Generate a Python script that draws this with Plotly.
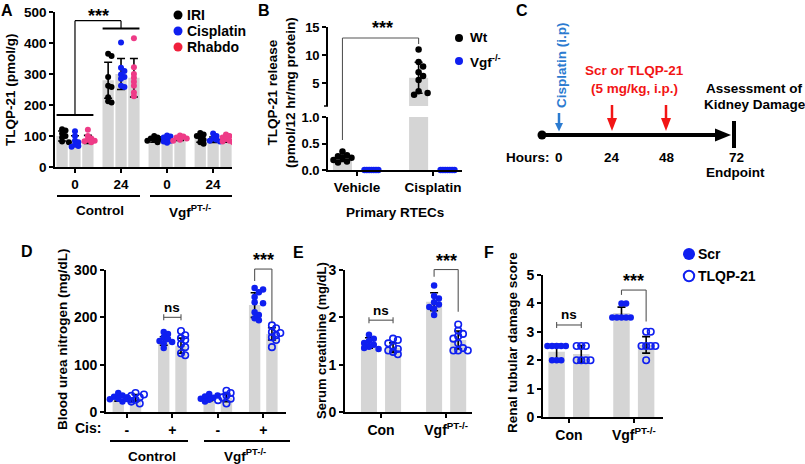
import plotly.graph_objects as go

W, H = 805, 464
FONT = "Liberation Sans"
BLUE = "#0f1ff0"
PINK = "#ee3b87"
RED_LEGEND = "#f0203c"
GRAY = "#d5d5d5"
C_BLUE = "#2b7bd0"
C_RED = "#f21515"
BRACKET = "#555555"

# ================= DATA =================
# Panel A : TLQP-21 (pmol/g)
A_tick_labels = ["0", "24", "0", "24"]
A_group_names = ["Control", "Vgf<sup>PT-/-</sup>"]
A_series_names = ["IRI", "Cisplatin", "Rhabdo"]
A_IRI_mean = [100, 280, 88, 92]
A_IRI_sd = [16, 58, 8, 12]
A_IRI_points = [[122, 118, 108, 100, 95, 82, 80],
                [365, 358, 290, 262, 258, 225, 212, 208],
                [100, 95, 92, 90, 88, 85, 80],
                [110, 105, 100, 95, 88, 80, 75]]
A_Cis_mean = [84, 300, 90, 88]
A_Cis_sd = [17, 50, 9, 9]
A_Cis_points = [[115, 100, 85, 80, 72, 68, 65],
                [402, 320, 310, 298, 290, 285, 262, 258],
                [102, 98, 95, 90, 85, 82, 78],
                [108, 100, 92, 88, 85, 82]]
A_Rha_mean = [89, 288, 93, 89]
A_Rha_sd = [13, 62, 7, 9]
A_Rha_points = [[120, 100, 92, 88, 85, 83, 80],
                [415, 322, 300, 288, 275, 262, 240, 228],
                [102, 98, 95, 92, 88, 85],
                [105, 100, 95, 90, 85, 82, 80]]

# Panel B : TLQP-21 release
B_tick_labels = ["Vehicle", "Cisplatin"]
B_series_names = ["Wt", "Vgf<sup>-/-</sup>"]
B_Wt_mean = [0.22, 6.0]
B_Wt_sd = [0.06, 2.75]
B_Wt_points = [[0.35, 0.28, 0.26, 0.23, 0.21, 0.19, 0.16, 0.14],
               [11.0, 8.8, 8.0, 7.0, 6.3, 5.6, 3.6, 3.3, 3.0]]
B_Vgf_points = [[0, 0, 0, 0, 0, 0, 0],
                [0, 0, 0, 0, 0, 0, 0]]

# Panel D : Blood urea nitrogen
D_tick_labels = ["-", "+", "-", "+"]
D_group_names = ["Control", "Vgf<sup>PT-/-</sup>"]
D_Scr_mean = [28, 150, 29, 226]
D_Scr_sd = [5, 9, 5, 26]
D_Scr_points = [[40, 35, 32, 30, 28, 27, 25, 22],
                [169, 165, 158, 154, 150, 148, 145, 135],
                [38, 35, 33, 30, 28, 26, 22],
                [262, 259, 253, 243, 232, 230, 211, 205, 198, 194]]
D_TLQP_mean = [30, 140, 30, 165]
D_TLQP_sd = [7, 16, 8, 13]
D_TLQP_points = [[40, 37, 34, 31, 29, 26, 22, 18],
                 [171, 162, 156, 152, 143, 137, 124, 120],
                 [45, 40, 35, 31, 28, 25, 18],
                 [183, 177, 169, 167, 162, 158, 152, 137]]

# Panel E : Serum creatinine
E_tick_labels = ["Con", "Vgf<sup>PT-/-</sup>"]
E_Scr_mean = [1.46, 2.33]
E_Scr_sd = [0.11, 0.19]
E_Scr_points = [[1.63, 1.55, 1.5, 1.46, 1.42, 1.38, 1.35, 1.33],
                [2.67, 2.45, 2.4, 2.32, 2.27, 2.22, 2.18, 2.05]]
E_TLQP_mean = [1.36, 1.52]
E_TLQP_sd = [0.1, 0.19]
E_TLQP_points = [[1.55, 1.52, 1.45, 1.38, 1.33, 1.3, 1.27, 1.22],
                 [1.85, 1.72, 1.65, 1.6, 1.55, 1.45, 1.35, 1.3, 1.3, 1.3]]

# Panel F : Renal tubular damage score
F_tick_labels = ["Con", "Vgf<sup>PT-/-</sup>"]
F_series_names = ["Scr", "TLQP-21"]
F_Scr_mean = [2.3, 3.66]
F_Scr_sd = [0.26, 0.21]
F_Scr_points = [[2.5, 2.5, 2.5, 2.5, 2.5, 2, 2, 2],
                [4, 4, 3.5, 3.5, 3.5, 3.5, 3.5]]
F_TLQP_mean = [2.22, 2.54]
F_TLQP_sd = [0.3, 0.29]
F_TLQP_points = [[2.5, 2.5, 2.5, 2, 2, 2, 2],
                 [3, 3, 2.5, 2.5, 2.5, 2.5, 2]]

# Panel C timeline labels
C_hour_labels = ["0", "24", "48", "72"]

# ================= LAYOUT HELPERS =================
PANELS = {
    "A":  dict(n="",  x0=55,  x1=232, xr=[-0.434, 3.41], y0=12,  y1=167, yr=[0, 500]),
    "Bl": dict(n="2", x0=328, x1=462, xr=[-0.38, 1.38],  y0=117, y1=170, yr=[0, 1.0]),
    "Bu": dict(n="3", x0=328, x1=462, xr=[-0.38, 1.38],  y0=27,  y1=106, yr=[1, 15]),
    "D":  dict(n="4", x0=106, x1=286, xr=[-0.46, 3.5],   y0=270, y1=412, yr=[0, 300]),
    "E":  dict(n="5", x0=345, x1=472, xr=[-0.553, 1.397], y0=270, y1=412, yr=[0, 3]),
    "F":  dict(n="6", x0=543, x1=663, xr=[-0.4, 1.45],   y0=275, y1=417, yr=[0, 5]),
}


def xppu(p):
    P = PANELS[p]
    return (P["x1"] - P["x0"]) / (P["xr"][1] - P["xr"][0])


def yppu(p):
    P = PANELS[p]
    return (P["y1"] - P["y0"]) / (P["yr"][1] - P["yr"][0])


def X(p, v):
    P = PANELS[p]
    return P["x0"] + (v - P["xr"][0]) * xppu(p)


def Y(p, v):
    P = PANELS[p]
    return P["y1"] - (v - P["yr"][0]) * yppu(p)


def swarm(vals, ppu, d, step):
    placed, out = [], []
    for v in vals:
        y = v * ppu
        k = 0
        while True:
            c = 0.0 if k == 0 else ((k + 1) // 2) * step * (1 if k % 2 else -1)
            if all((c - a) ** 2 + (y - b) ** 2 >= d * d * 0.999 for a, b in placed):
                break
            k += 1
        placed.append((c, y))
        out.append(c)
    return out


fig = go.Figure()
layout = dict(template="none", width=W, height=H,
              margin=dict(l=0, r=0, t=0, b=0, pad=0, autoexpand=False),
              paper_bgcolor="white", plot_bgcolor="rgba(0,0,0,0)",
              showlegend=False, barmode="overlay",
              font=dict(family=FONT, color="black", weight="bold"))
annotations, shapes = [], []


def add_series(p, means, sds, points, off, bw, mk, d=5.5, step=None,
               keep=None, err_groups=None, bars=True, clip=True):
    P = PANELS[p]
    xa, ya = "x" + P["n"], "y" + P["n"]
    n = len(points)
    xs = [g + off for g in range(n)]
    if bars:
        fig.add_trace(go.Bar(x=xs, y=means, width=bw, xaxis=xa, yaxis=ya,
                             marker=dict(color=GRAY, line=dict(width=0)),
                             hoverinfo="skip"))
    if sds is not None:
        idx = list(range(n)) if err_groups is None else err_groups
        fig.add_trace(go.Scatter(
            x=[xs[i] for i in idx], y=[means[i] for i in idx], mode="markers",
            marker=dict(size=1, color="rgba(0,0,0,0)"), xaxis=xa, yaxis=ya,
            error_y=dict(type="data", array=[sds[i] for i in idx], color="black",
                         thickness=1.6, width=4), hoverinfo="skip"))
    px_x, px_y = [], []
    for g, vals in enumerate(points):
        offs = swarm(vals, yppu(p), d, step or d)
        for v, o in zip(vals, offs):
            if keep is None or keep(v):
                px_x.append(g + off + o / xppu(p))
                px_y.append(v)
    fig.add_trace(go.Scatter(x=px_x, y=px_y, mode="markers", marker=mk,
                             xaxis=xa, yaxis=ya, cliponaxis=clip, hoverinfo="skip"))


def axes(p, xtv, xtt, ytv, ytt, xsize=13.5, ysize=13.5, xvisible=True):
    P = PANELS[p]
    n = P["n"]
    common = dict(showgrid=False, zeroline=False, showline=True, linecolor="black",
                  linewidth=1.6, ticks="outside", ticklen=4, tickwidth=1.5,
                  tickcolor="black", fixedrange=True, automargin=False)
    layout["xaxis" + n] = dict(domain=[P["x0"] / W, P["x1"] / W], range=P["xr"],
                               anchor="y" + n, tickvals=xtv, ticktext=xtt,
                               tickfont=dict(family=FONT, size=xsize, color="black", weight="bold"),
                               visible=xvisible, **common)
    layout["yaxis" + n] = dict(domain=[1 - P["y1"] / H, 1 - P["y0"] / H], range=P["yr"],
                               anchor="x" + n, tickvals=ytv, ticktext=ytt,
                               tickfont=dict(family=FONT, size=ysize, color="black", weight="bold"),
                               **common)


def T(text, x, y, size=13.5, color="black", xanchor="center", angle=0):
    annotations.append(dict(text=text, x=x / W, y=1 - y / H, xref="paper", yref="paper",
                            showarrow=False, xanchor=xanchor, yanchor="middle",
                            textangle=angle, borderpad=0,
                            font=dict(family=FONT, size=size, color=color, weight="bold")))


def L(x0, y0, x1, y1, color="black", w=1.5):
    shapes.append(dict(type="line", xref="paper", yref="paper", x0=x0 / W, y0=1 - y0 / H,
                       x1=x1 / W, y1=1 - y1 / H, line=dict(color=color, width=w)))


def poly(pts, color):
    path = "M " + " L ".join(f"{x / W},{1 - y / H}" for x, y in pts) + " Z"
    shapes.append(dict(type="path", xref="paper", yref="paper", path=path,
                       fillcolor=color, line=dict(width=0)))


def circ(cx, cy, r, fill, line_color, lw):
    shapes.append(dict(type="circle", xref="paper", yref="paper",
                       x0=(cx - r) / W, x1=(cx + r) / W, y0=1 - (cy + r) / H, y1=1 - (cy - r) / H,
                       fillcolor=fill, line=dict(color=line_color, width=lw)))


# ================= PANEL A =================
A_off, A_bw = 0.28, 0.245
for means, sds, pts, col, off in [
        (A_IRI_mean, A_IRI_sd, A_IRI_points, "black", -A_off),
        (A_Cis_mean, A_Cis_sd, A_Cis_points, BLUE, 0.0),
        (A_Rha_mean, A_Rha_sd, A_Rha_points, PINK, A_off)]:
    add_series("A", means, sds, pts, off, A_bw, dict(size=6, color=col), d=3.6, step=3.4)
axes("A", [0, 1, 2, 3], A_tick_labels, [0, 100, 200, 300, 400, 500],
     ["0", "100", "200", "300", "400", "500"])
T("TLQP-21 (pmol/g)", 10, 90, angle=-90)
L(57, 196, 140, 196, w=2)
L(150, 196, 232, 196, w=2)
T(A_group_names[0], 100, 211)
T(A_group_names[1], 190, 211)
# significance
L(X("A", -0.4), Y("A", 168), X("A", 0.4), Y("A", 168), w=2)
L(X("A", 0.6), Y("A", 447), X("A", 1.4), Y("A", 447), w=2)
L(X("A", 0), Y("A", 168), X("A", 0), Y("A", 472), w=1.2)
L(X("A", 0), Y("A", 472), X("A", 1), Y("A", 472), w=1.2)
L(X("A", 1), Y("A", 472), X("A", 1), Y("A", 447), w=1.2)
T("***", 98, 16, size=18)
# legend
for i, (nm, col) in enumerate(zip(A_series_names, ["black", BLUE, RED_LEGEND])):
    circ(178, 15 + 16 * i, 4.5, col, col, 0)
    T(nm, 186, 15 + 16 * i, size=14, xanchor="left")

# ================= PANEL B =================
B_off, B_bw = 0.19, 0.25
for p, keep, errg in [("Bl", lambda v: v <= 1.0, [0]), ("Bu", lambda v: v > 1.0, [1])]:
    add_series(p, B_Wt_mean, B_Wt_sd, B_Wt_points, -B_off, B_bw,
               dict(size=6.5, color="black"), d=5.0, step=4.5, keep=keep, err_groups=errg,
               clip=(p == "Bu"))
add_series("Bl", None, None, B_Vgf_points, B_off, B_bw, dict(size=6.5, color=BLUE),
           d=2.3, step=2.3, bars=False, clip=False)
axes("Bl", [0, 1], B_tick_labels, [0, 0.5, 1.0], ["0.0", "0.5", "1.0"], ysize=13)
axes("Bu", [0, 1], B_tick_labels, [5, 10, 15], ["5", "10", "15"], ysize=13,
     xvisible=False)
L(PANELS["Bu"]["x0"] - 4, Y("Bu", 1), PANELS["Bu"]["x0"], Y("Bu", 1), w=1.5)
T("TLQP-21 release<br>(pmol/12 hr/mg protein)", 281, 93, angle=-90)
T("Primary RTECs", 395, 212)
L(X("Bl", -B_off), 140, X("Bl", -B_off), 38, BRACKET, 1.1)
L(X("Bl", -B_off), 38, X("Bl", 1 - B_off), 38, BRACKET, 1.1)
L(X("Bl", 1 - B_off), 38, X("Bl", 1 - B_off), 44, BRACKET, 1.1)
T("***", 382, 28, size=18)
circ(459, 38, 4, "black", "black", 0)
T(B_series_names[0], 469, 38, xanchor="left")
circ(459, 61, 4, BLUE, BLUE, 0)
T(B_series_names[1], 469, 61, xanchor="left")

# ================= PANEL C =================
circ(542, 135, 4.5, "black", "black", 0)
L(542, 135, 718, 135, w=4)
poly([(715, 128.5), (731, 135), (715, 141.5)], "black")
L(734, 121, 734, 148, w=4)
L(559, 113, 559, 124, C_BLUE, 2.5)
poly([(555, 123), (563, 123), (559, 131.5)], C_BLUE)
for xa in [612, 666]:
    L(xa, 105, xa, 119, C_RED, 2.5)
    poly([(xa - 5, 118), (xa + 5, 118), (xa, 131)], C_RED)
T("Hours:", 551, 157, xanchor="right")
for lab, xa in zip(C_hour_labels, [559, 612, 667, 736]):
    T(lab, xa, 157)
T("Endpoint", 735, 173)
T("Assessment of", 754, 88)
T("Kidney Damage", 755, 104)
T("Scr or TLQP-21", 634, 71, color=C_RED)
T("(5 mg/kg, i.p.)", 634, 88, color=C_RED)
T("Cisplatin (i.p)", 561, 65, color=C_BLUE, angle=-90)

# ================= PANEL D =================
D_off, D_bw = 0.19, 0.25
FILLED = dict(size=6.5, color=BLUE)
OPEN = dict(size=6.5, symbol="circle-open", color=BLUE, line=dict(width=1.6))
add_series("D", D_Scr_mean, D_Scr_sd, D_Scr_points, -D_off, D_bw, FILLED, d=4.6, step=4.2)
add_series("D", D_TLQP_mean, D_TLQP_sd, D_TLQP_points, D_off, D_bw, OPEN, d=4.6, step=4.2)
axes("D", [0, 1, 2, 3], D_tick_labels, [0, 100, 200, 300], ["0", "100", "200", "300"],
     xsize=14, ysize=14)
T("Blood urea nitrogen (mg/dL)", 62, 339, angle=-90)
T("Cis:", 102, 428, size=14, xanchor="right")
L(110, 441, 188, 441, w=2)
L(204, 441, 290, 441, w=2)
T(D_group_names[0], 152, 456)
T(D_group_names[1], 245, 455)
# ns
for xa in [X("D", 1 - D_off), X("D", 1 + D_off)]:
    L(xa, Y("D", 200) - 3, xa, Y("D", 200) + 3, BRACKET, 1.1)
L(X("D", 1 - D_off), Y("D", 200), X("D", 1 + D_off), Y("D", 200), BRACKET, 1.1)
T("ns", X("D", 1), Y("D", 200) - 10)
# ***
L(X("D", 3 - D_off), Y("D", 277), X("D", 3 - D_off), Y("D", 302), BRACKET, 1.1)
L(X("D", 3 - D_off), Y("D", 302), X("D", 3 + D_off), Y("D", 302), BRACKET, 1.1)
L(X("D", 3 + D_off), Y("D", 302), X("D", 3 + D_off), Y("D", 190), BRACKET, 1.1)
T("***", X("D", 3), Y("D", 302) - 9, size=18)

# ================= PANEL E =================
E_off, E_bw = 0.185, 0.246
add_series("E", E_Scr_mean, E_Scr_sd, E_Scr_points, -E_off, E_bw, FILLED, d=4.8)
add_series("E", E_TLQP_mean, E_TLQP_sd, E_TLQP_points, E_off, E_bw, OPEN, d=4.8)
axes("E", [0, 1], E_tick_labels, [0, 1, 2, 3], ["0", "1", "2", "3"], xsize=14, ysize=14)
T("Serum creatinine (mg/dL)", 321, 341, size=13, angle=-90)
for xa in [X("E", -E_off), X("E", E_off)]:
    L(xa, Y("E", 1.94) - 3, xa, Y("E", 1.94) + 3, BRACKET, 1.1)
L(X("E", -E_off), Y("E", 1.94), X("E", E_off), Y("E", 1.94), BRACKET, 1.1)
T("ns", X("E", 0), Y("E", 1.94) - 10)
L(X("E", 1 - E_off), Y("E", 2.86), X("E", 1 - E_off), Y("E", 3.01), BRACKET, 1.1)
L(X("E", 1 - E_off), Y("E", 3.01), X("E", 1 + E_off), Y("E", 3.01), BRACKET, 1.1)
L(X("E", 1 + E_off), Y("E", 3.01), X("E", 1 + E_off), Y("E", 2.12), BRACKET, 1.1)
T("***", X("E", 1), Y("E", 3.01) - 9, size=18)

# ================= PANEL F =================
F_off, F_bw = 0.19, 0.254
add_series("F", F_Scr_mean, F_Scr_sd, F_Scr_points, -F_off, F_bw, FILLED, d=4.6)
add_series("F", F_TLQP_mean, F_TLQP_sd, F_TLQP_points, F_off, F_bw, OPEN, d=4.6)
axes("F", [0, 1], F_tick_labels, [0, 1, 2, 3, 4, 5], ["0", "1", "2", "3", "4", "5"],
     xsize=14, ysize=14)
T("Renal tubular damage score", 512, 343, angle=-90)
for xa in [X("F", -F_off), X("F", F_off)]:
    L(xa, Y("F", 3.24) - 3, xa, Y("F", 3.24) + 3, BRACKET, 1.1)
L(X("F", -F_off), Y("F", 3.24), X("F", F_off), Y("F", 3.24), BRACKET, 1.1)
T("ns", X("F", 0), Y("F", 3.24) - 10)
L(X("F", 1 - F_off), Y("F", 4.3), X("F", 1 - F_off), Y("F", 4.47), BRACKET, 1.1)
L(X("F", 1 - F_off), Y("F", 4.47), X("F", 1 + F_off), Y("F", 4.47), BRACKET, 1.1)
L(X("F", 1 + F_off), Y("F", 4.47), X("F", 1 + F_off), Y("F", 3.36), BRACKET, 1.1)
T("***", X("F", 1), Y("F", 4.47) - 9, size=18)
circ(689, 254, 6, BLUE, BLUE, 0)
T(F_series_names[0], 697, 254, size=14, xanchor="left")
circ(689, 276, 5.2, "white", BLUE, 2)
T(F_series_names[1], 697, 276, size=14, xanchor="left")

# ================= PANEL LETTERS =================
for lab, xa, ya in [("A", 7, 11), ("B", 264, 10), ("C", 522, 10),
                    ("D", 27, 251), ("E", 298, 253), ("F", 489, 253)]:
    T(lab, xa, ya, size=16)

layout["annotations"] = annotations
layout["shapes"] = shapes
fig.update_layout(**layout)
fig.write_html("out.html", config={"displayModeBar": False},
               post_script="document.body.style.margin='0';"
                           "document.body.style.overflow='hidden';")
